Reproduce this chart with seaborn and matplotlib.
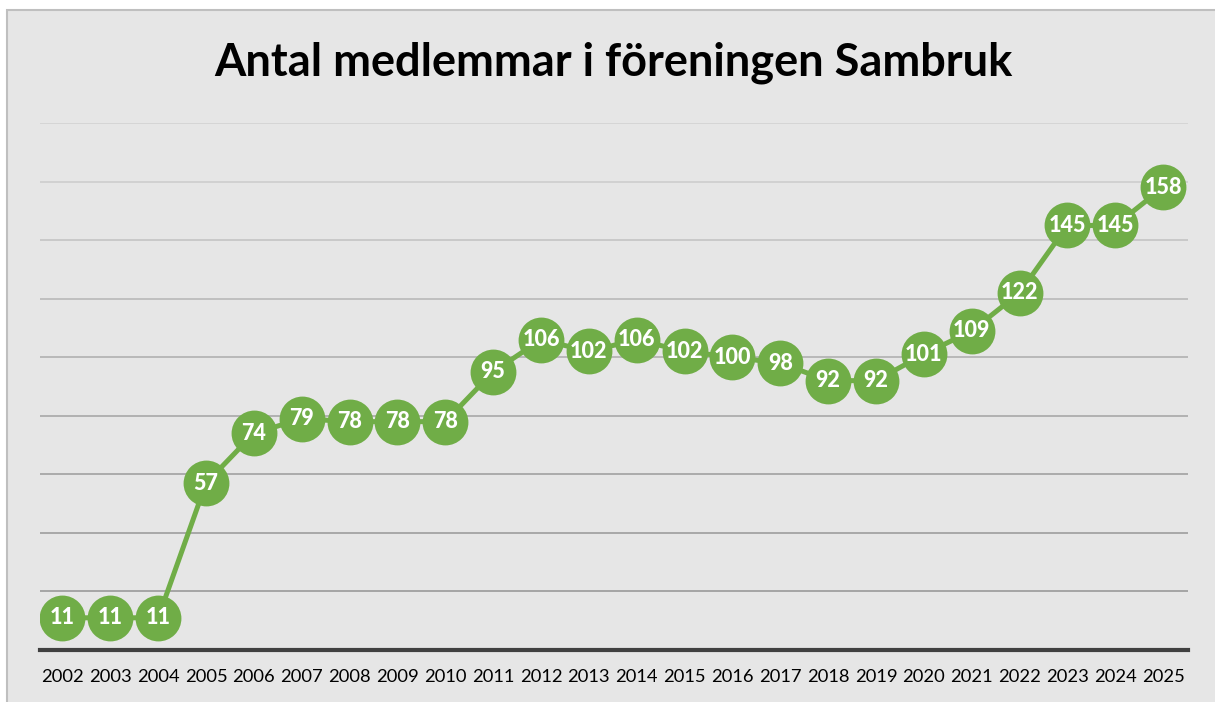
import pandas as pd
import seaborn as sns
import matplotlib.pyplot as plt
from matplotlib.patches import Rectangle

years = ['2002', '2003', '2004', '2005', '2006', '2007', '2008', '2009', '2010', '2011', '2012', '2013',
         '2014', '2015', '2016', '2017', '2018', '2019', '2020', '2021', '2022', '2023', '2024', '2025']
members = [11, 11, 11, 57, 74, 79, 78, 78, 78, 95, 106, 102,
           106, 102, 100, 98, 92, 92, 101, 109, 122, 145, 145, 158]
title = 'Antal medlemmar i föreningen Sambruk'

green = '#70ad47'
bg = '#e6e6e6'

df = pd.DataFrame({'year': years, 'members': members})

sns.set_theme(style='white')
plt.rcParams['font.family'] = ['Lato', 'DejaVu Sans']

fig = plt.figure(figsize=(12.15, 7.02), dpi=100)
fig.patch.set_facecolor('white')
frame = Rectangle((7 / 1215, -0.01), 1.0, 1 - 10 / 702 + 0.01, transform=fig.transFigure,
                  facecolor=bg, edgecolor='#bfbfbf', linewidth=1.5, zorder=-10)
fig.patches.append(frame)

ax = fig.add_axes([40 / 1215, 1 - 650 / 702, (1188 - 40) / 1215, (650 - 123) / 702])
ax.set_zorder(1)
ax.patch.set_alpha(0)

sns.lineplot(data=df, x='year', y='members', ax=ax, color=green, linewidth=3.6,
             marker='o', markersize=33, markeredgewidth=0, sort=False)

for i, v in enumerate(members):
    ax.text(i, v, str(v), ha='center', va='center', color='white', fontsize=15.5,
            fontweight='black', zorder=5)

ax.set_xlim(-0.47, len(years) - 0.48)
ax.set_ylim(0, 180)
ax.set_yticks(range(20, 181, 20))
ax.yaxis.grid(True)
ax.set_yticklabels([])
grid_colors = ['#a0a0a0', '#a3a3a3', '#a6a6a6', '#adadad', '#b5b5b5', '#bdbdbd', '#c6c6c6', '#cfcfcf', '#d4d4d4']
for gl, c in zip(ax.get_ygridlines(), grid_colors):
    gl.set_color(c)
    gl.set_linewidth(1.3)
ax.set_axisbelow(True)
ax.tick_params(axis='y', length=0)
ax.tick_params(axis='x', length=0, pad=14, labelsize=13.2, labelcolor='black')
ax.set_xlabel('')
ax.set_ylabel('')
for s in ['top', 'left', 'right']:
    ax.spines[s].set_visible(False)
ax.spines['bottom'].set_color('#404040')
ax.spines['bottom'].set_linewidth(3)

fig.text(613 / 1215, 1 - 63 / 702, title, ha='center', va='center', fontsize=32.5, fontweight='bold', color='black')

fig.savefig('out.png', dpi=100, facecolor=fig.get_facecolor())
